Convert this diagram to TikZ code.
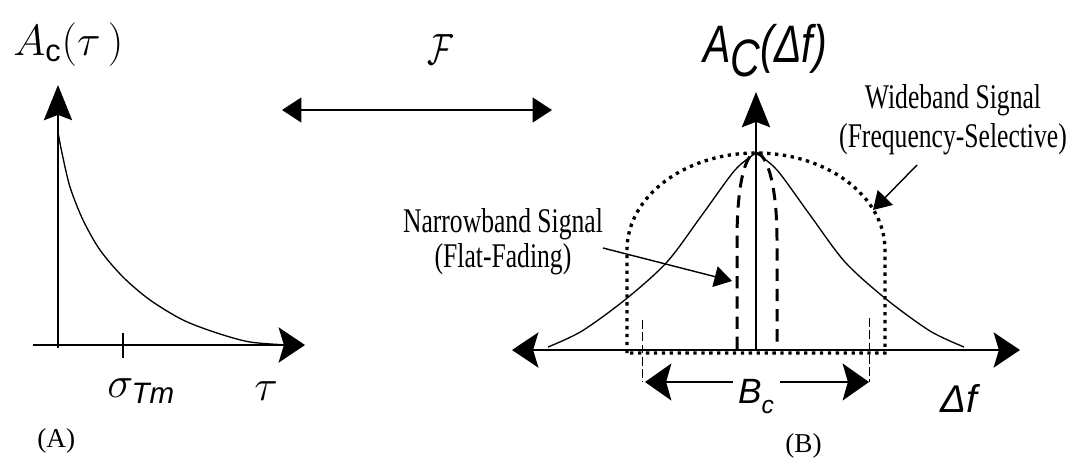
\documentclass[tikz,border=0pt]{standalone}
\usepackage{amsmath}
\usepackage{fontspec}
\setmainfont{Liberation Serif}
\setsansfont{Liberation Sans}
\usetikzlibrary{arrows.meta, positioning}
\tikzset{
  bigH/.tip={Stealth[length=15pt, width=20pt, inset=3pt]},
  bigV/.tip={Stealth[length=20pt, width=16pt, inset=3pt]},
  midH/.tip={Stealth[length=15pt, width=21pt, inset=3pt]},
  smallH/.tip={Triangle[length=11pt, width=14pt]},
  thinhead/.tip={Triangle[length=10pt, width=12pt]},
  axisline/.style={line width=1.4pt},
  curve/.style={line width=0.75pt},
  narrowband/.style={line width=1.7pt, dash pattern=on 7pt off 4.5pt},
  wideband/.style={line width=1.9pt, dash pattern=on 1.9pt off 2.6pt},
  marker/.style={line width=0.5pt, dash pattern=on 5pt off 2pt},
  pointer/.style={line width=0.8pt, -{thinhead}},
  note/.style={font=\fontsize{19.7}{22}\selectfont, align=center, inner sep=0pt, xscale=0.74},
  panel/.style={font=\fontsize{15.5}{18}\selectfont, inner sep=0pt, anchor=base west},
  sym/.style={inner sep=0pt, anchor=base west},
}

\begin{document}
\begin{tikzpicture}[x=0.02cm, y=-0.02cm]
  \useasboundingbox (0,0) rectangle (1075,460);
  % (A) power delay profile
  \coordinate (oA) at (58,348);
  \coordinate (topA) at (58,85);
  \coordinate (leftA) at (33,345);
  \coordinate (rightA) at (305,345);
  \draw[axisline, -{bigV}] (oA) -- (topA);
  \draw[axisline, -{bigH}] (leftA) -- (rightA);
  \draw[axisline] (123,333) -- (123,358);
  \draw[curve] plot[smooth] coordinates {(58,132) (62,153) (70,187) (83,220) (100,250) (123,277) (150,300) (183,320) (217,333) (250,342) (288,345)};
  \node[sym, font=\fontsize{25}{30}\selectfont] (acTau) at (13,55) {$A_{\textsf{c}}(\tau\,)$};
  \node[sym, font=\fontsize{24}{28}\selectfont] (sigma) at (107,397) {$\sigma_{\textsf{\itshape Tm}}$};
  \node[sym, font=\fontsize{24}{28}\selectfont] (tau) at (254,400) {$\tau$};
  \node[panel] (pa) at (37,447) {(A)};

  % Fourier pair
  \node[font=\fontsize{50}{54}\selectfont, inner sep=0pt, xscale=0.72] (four) at (440,50) {$\mathcal{F}$};
  \coordinate (fl) at (282,110);
  \coordinate (fr) at (552,110);
  \draw[axisline, {smallH}-{smallH}] (fl) -- (fr);

  % (B) frequency correlation
  \coordinate (oB) at (756,350);
  \coordinate (topB) at (756,92);
  \coordinate (leftB) at (512,350);
  \coordinate (rightB) at (1020,350);
  \draw[axisline, {bigH}-{bigH}] (leftB) -- (rightB);
  \draw[axisline, -{bigV}] (oB) -- (topB);
  \draw[curve] plot[smooth] coordinates {(548,347) (582,331) (626,299) (667,262) (702,215) (735,170) (756,153)}
    -- plot[smooth] coordinates {(756,153) (777,170) (810,215) (845,262) (886,299) (930,331) (964,347)};
  \draw[wideband] (627,353) -- (627,250) arc[start angle=180, end angle=360, x radius=129, y radius=97] -- (885,353) -- cycle;
  \draw[narrowband] (737,349) -- (737,240) .. controls (737,185) and (745,153) .. (756,153)
    .. controls (767,153) and (777,185) .. (777,240) -- (777,349);
  \draw[marker] (642,320) -- (642,382);
  \draw[marker] (869,318) -- (869,382);

  \node[font=\sffamily\itshape\fontsize{20}{24}\selectfont, inner sep=3pt, anchor=base] (bc) at (756,403) {B\raisebox{-6pt}{\fontsize{14}{14}\selectfont c}};
  \coordinate (bcL) at (645,382);
  \coordinate (bcR) at (869,382);
  \draw[axisline, -{midH}] (bc.west |- bcL) -- (bcL);
  \draw[axisline, -{midH}] (bc.east |- bcR) -- (bcR);
  \node[sym, font=\sffamily\itshape\fontsize{22}{26}\selectfont] (df) at (940,412) {Δf};
  \node[sym, font=\sffamily\itshape\fontsize{30}{34}\selectfont, xscale=0.78] (acDf) at (703,62) {A\raisebox{-8pt}{C}(Δf)};
  \node[panel] (pb) at (785,452) {(B)};

  % labels for the two signals
  \node[note, anchor=north] (wide) at (953,84) {Wideband Signal\\(Frequency-Selective)};
  \node[note, anchor=north, font=\fontsize{19.7}{20}\selectfont] (narrow) at (503,208) {Narrowband Signal\\(Flat-Fading)};
  \coordinate (wideFrom) at (917,165);
  \coordinate (wideTip) at (873,210);
  \coordinate (narrowFrom) at (603,248);
  \coordinate (narrowTip) at (732,281);
  \draw[pointer] (wideFrom) -- (wideTip);
  \draw[pointer] (narrowFrom) -- (narrowTip);
\end{tikzpicture}
\end{document}
